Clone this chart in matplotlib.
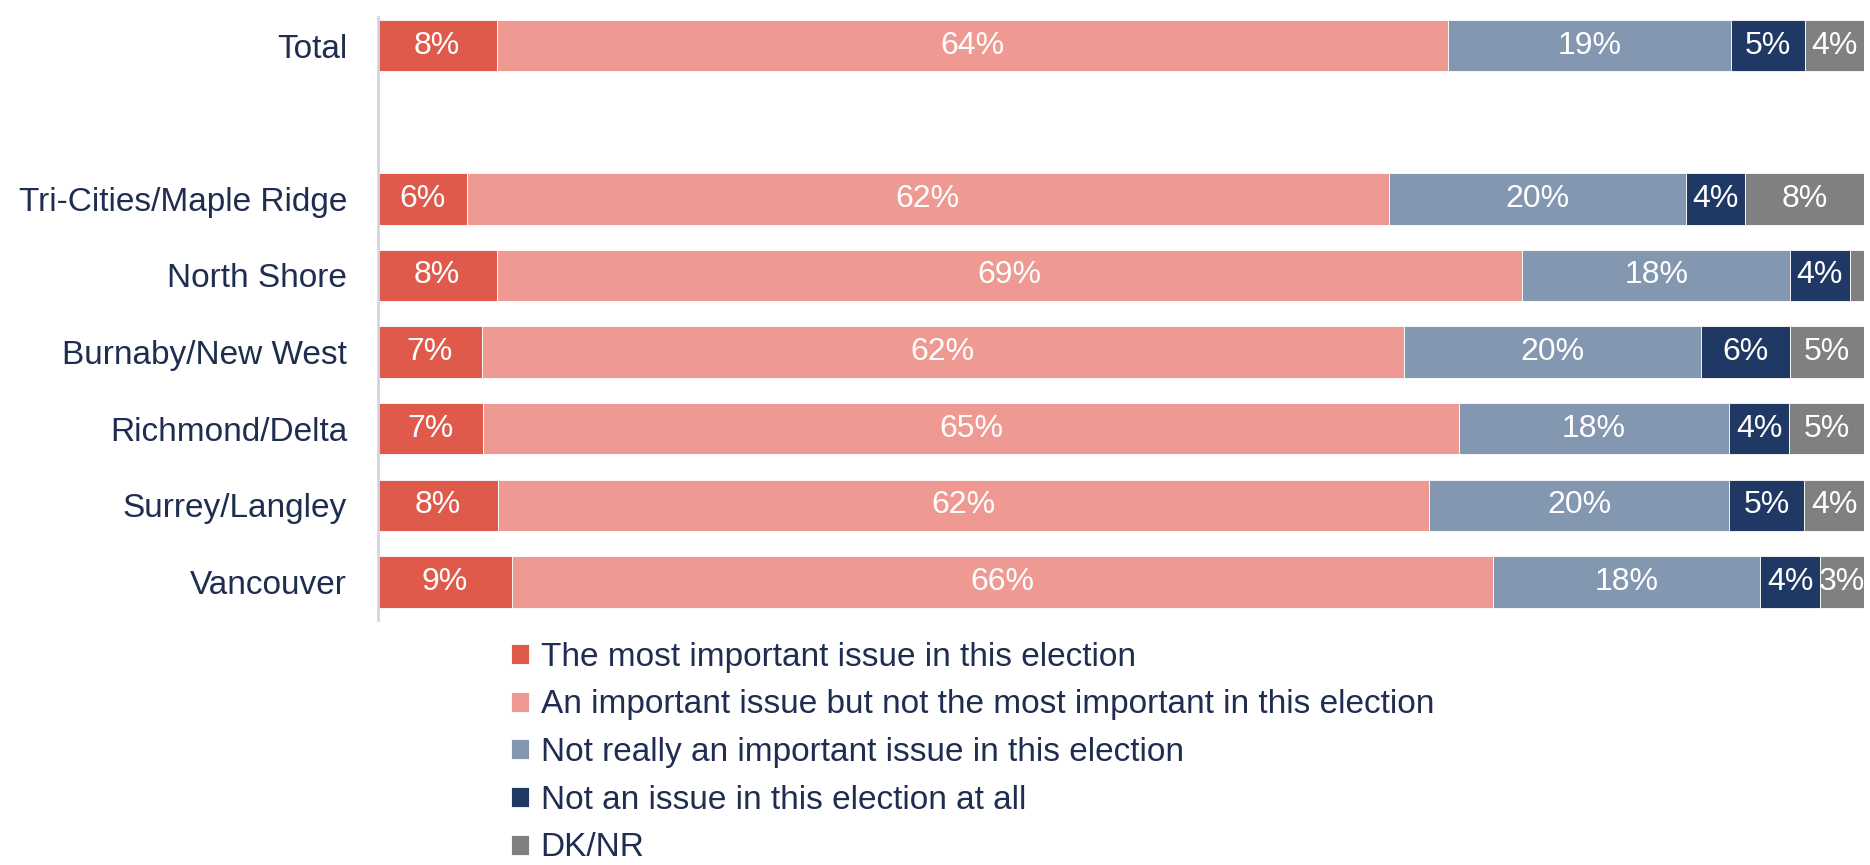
import matplotlib.pyplot as plt
import numpy as np

plt.rcParams['font.family'] = ['Liberation Sans', 'DejaVu Sans']

regions = ['Total', 'Tri-Cities/Maple Ridge', 'North Shore', 'Burnaby/New West',
           'Richmond/Delta', 'Surrey/Langley', 'Vancouver']
# row positions, with a gap between Total and the regions
ypos = [7, 5, 4, 3, 2, 1, 0]

series = ['The most important issue in this election',
          'An important issue but not the most important in this election',
          'Not really an important issue in this election',
          'Not an issue in this election at all',
          'DK/NR']
most_important = [8, 6, 8, 7, 7, 8, 9]
important = [64, 62, 69, 62, 65, 62, 66]
not_really = [19, 20, 18, 20, 18, 20, 18]
not_at_all = [5, 4, 4, 6, 4, 5, 4]
dk_nr = [4, 8, 1, 5, 5, 4, 3]
show_label = [[True] * 7, [True] * 7, [True] * 7, [True] * 7,
              [True, True, False, True, True, True, True]]

colors = ['#E05A4B', '#EE9A92', '#8497B0', '#1F3864', '#808080']
text_color = '#1F2D50'

data = np.array([most_important, important, not_really, not_at_all, dk_nr], dtype=float)
shares = data / data.sum(axis=0) * 100

fig = plt.figure(figsize=(18.7, 8.65), dpi=100)
ax = fig.add_axes([0.202, 0.283, 0.795, 0.697])

left = np.zeros(len(regions))
for k in range(len(series)):
    ax.barh(ypos, shares[k], left=left, height=0.67, color=colors[k],
            edgecolor='white', linewidth=0.6, label=series[k])
    for i in range(len(regions)):
        if show_label[k][i]:
            ax.text(left[i] + shares[k][i] / 2, ypos[i], '%d%%' % data[k][i],
                    ha='center', va='center', color='white', fontsize=23)
    left += shares[k]

ax.set_xlim(0, 100)
ax.set_ylim(-0.5, 7.37)
ax.set_yticks(ypos)
ax.set_yticklabels(regions, fontsize=24, color=text_color)
ax.tick_params(axis='y', length=0, pad=22)
ax.set_xticks([])
for s in ['top', 'right', 'bottom']:
    ax.spines[s].set_visible(False)
ax.spines['left'].set_color('#D0D7E3')
ax.spines['left'].set_linewidth(2)

fig.legend(loc='upper left', bbox_to_anchor=(0.273, 0.258), frameon=False,
           fontsize=24, labelcolor=text_color, handlelength=0.55, handleheight=0.55,
           handletextpad=0.35, labelspacing=0.5, borderaxespad=0, borderpad=0)

fig.savefig('out.png', dpi=100)
